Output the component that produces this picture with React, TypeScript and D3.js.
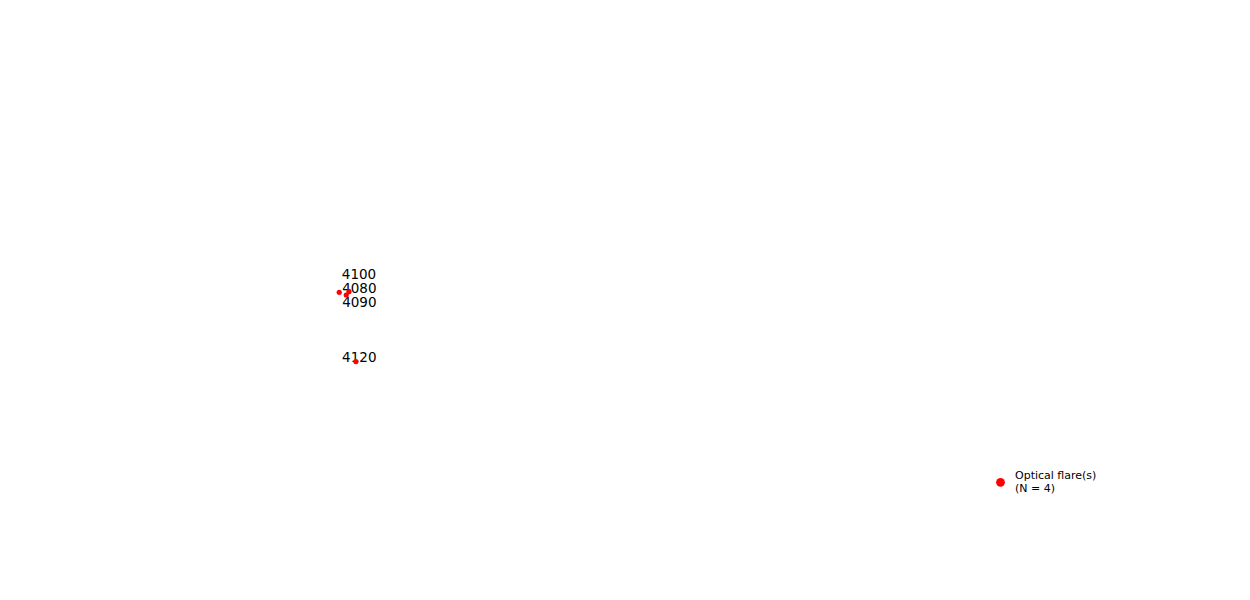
import React, { useEffect, useRef } from 'react';
import * as d3 from 'd3';

// flare positions (RA / Dec, degrees) and their ids
const flareIds = ['4080', '4100', '4090', '4120'];
const flareRa = [68.0, 71.6, 70.6, 74.2];
const flareDec = [2.97, 3.19, 1.93, -23.7];

// label nudges (px) so the clustered ids don't overlap
const labelNudge: [number, number][] = [
  [2.9, 0.7],
  [-7.1, -13.0],
  [-4.1, 11.8],
  [-13.8, 0.6],
];

const legendLines = ['Optical flare(s)', `(N = ${flareIds.length})`];

const App: React.FC = () => {
  const svgRef = useRef<SVGSVGElement>(null);

  useEffect(() => {
    document.body.style.margin = '0';
    if (!svgRef.current) return;

    const svg = d3.select(svgRef.current);
    svg.selectAll('*').remove();

    const width = 1250;
    const height = 600;
    const margin = { left: 156.25, right: 125, top: 66, bottom: 66 };

    svg.attr('width', width).attr('height', height);

    const x = d3.scaleLinear()
      .domain([0, 360])
      .range([margin.left, width - margin.right]);
    const y = d3.scaleLinear()
      .domain([-90, 90])
      .range([height - margin.bottom, margin.top]);

    const points = flareIds.map((id, i) => ({ id, ra: flareRa[i], dec: flareDec[i], nudge: labelNudge[i] }));

    // id labels
    svg.append('g')
      .selectAll('text')
      .data(points)
      .enter()
      .append('text')
      .attr('x', d => x(d.ra) + d.nudge[0])
      .attr('y', d => y(d.dec) + d.nudge[1])
      .style('font-family', 'DejaVu Sans, sans-serif')
      .style('font-size', '13.5px')
      .style('fill', '#000')
      .text(d => d.id);

    // markers
    svg.append('g')
      .selectAll('circle')
      .data(points)
      .enter()
      .append('circle')
      .attr('cx', d => x(d.ra))
      .attr('cy', d => y(d.dec))
      .attr('r', 2.6)
      .attr('fill', '#ff0000');

    // legend
    const legend = svg.append('g')
      .attr('transform', `translate(${1000.5}, ${482.3})`);

    legend.append('circle')
      .attr('r', 4.4)
      .attr('fill', '#ff0000');

    legend.selectAll('text')
      .data(legendLines)
      .enter()
      .append('text')
      .attr('x', 14.5)
      .attr('y', (d, i) => -3.3 + i * 13.3)
      .style('font-family', 'DejaVu Sans, sans-serif')
      .style('font-size', '11px')
      .style('fill', '#000')
      .text(d => d);
  }, []);

  return <svg ref={svgRef} style={{ display: 'block' }}></svg>;
};

export default App;
